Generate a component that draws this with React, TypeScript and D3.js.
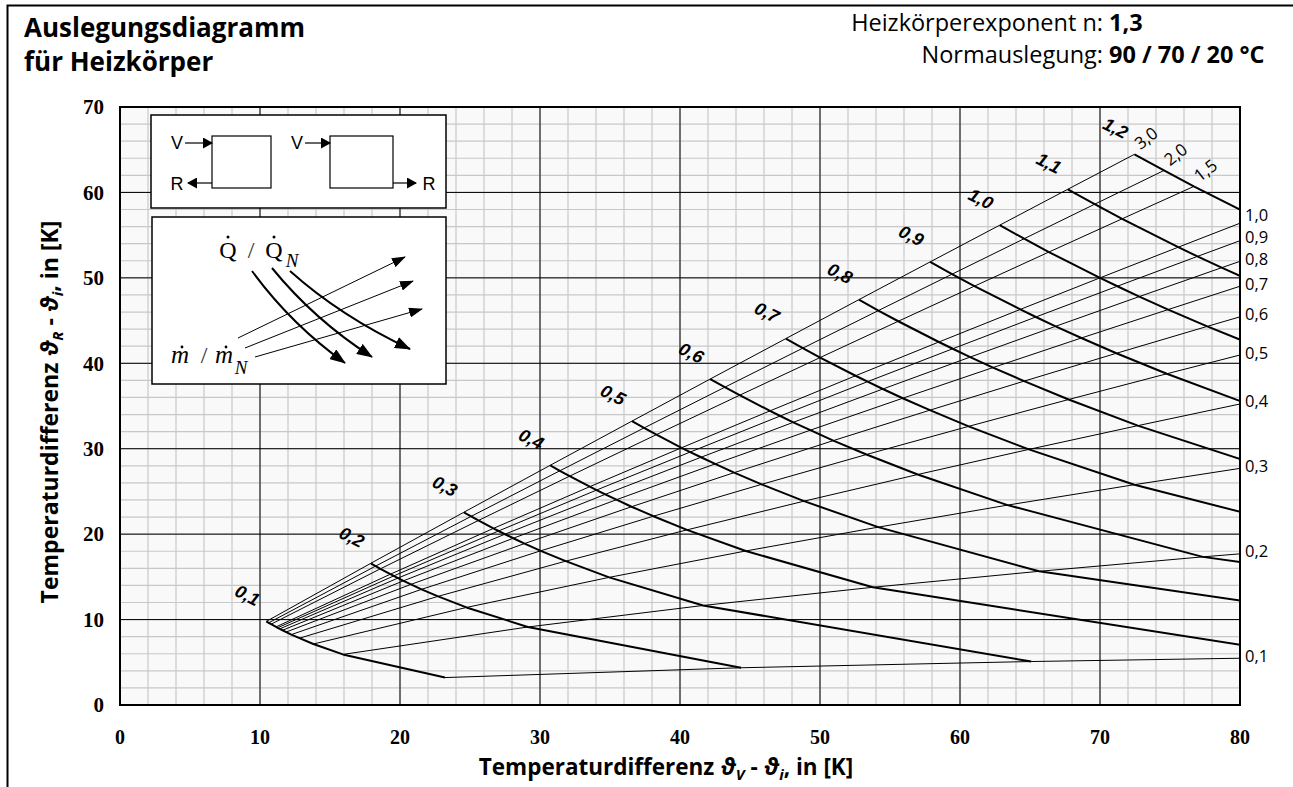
import React from "react";
import * as d3 from "d3";

// Heizkörper-Auslegung, n = 1,3, Normauslegung 90/70/20 °C
const qLevels = [0.1, 0.2, 0.3, 0.4, 0.5, 0.6, 0.7, 0.8, 0.9, 1.0, 1.1, 1.2];
const qLabels = ["0,1", "0,2", "0,3", "0,4", "0,5", "0,6", "0,7", "0,8", "0,9", "1,0", "1,1", "1,2"];
const mLevels = [3.0, 2.0, 1.5, 1.0, 0.9, 0.8, 0.7, 0.6, 0.5, 0.4, 0.3, 0.2, 0.1];
const mLabels = ["3,0", "2,0", "1,5", "1,0", "0,9", "0,8", "0,7", "0,6", "0,5", "0,4", "0,3", "0,2", "0,1"];

// ϑV - ϑi per Q-Kurve (Zeile) und Massenstrom (Spalte, Reihenfolge wie mLevels)
const vorlaufDiff = [
  [10.45, 10.62, 10.79, 11.15, 11.26, 11.41, 11.61, 11.87, 12.24, 12.82, 13.81, 15.92, 23.21],
  [17.91, 18.26, 18.6, 19.31, 19.55, 19.86, 20.25, 20.78, 21.54, 22.72, 24.75, 29.13, 44.36],
  [24.56, 25.08, 25.6, 26.67, 27.04, 27.49, 28.09, 28.9, 30.05, 31.84, 34.94, 41.65, 65.09],
  [30.73, 31.42, 32.12, 33.56, 34.04, 34.66, 35.46, 36.54, 38.1, 40.5, 44.7, 53.78, 85.62],
  [36.57, 37.43, 38.32, 40.11, 40.73, 41.5, 42.51, 43.87, 45.83, 48.86, 54.16, 65.65, 106.03],
  [42.16, 43.2, 44.26, 46.43, 47.16, 48.09, 49.31, 50.95, 53.32, 56.98, 63.4, 77.34, 126.35],
  [47.56, 48.77, 50.01, 52.54, 53.4, 54.49, 55.91, 57.85, 60.62, 64.92, 72.46, 88.88, 146.61],
  [52.78, 54.17, 55.59, 58.49, 59.48, 60.73, 62.36, 64.58, 67.76, 72.7, 81.38, 100.29, 166.8],
  [57.87, 59.43, 61.03, 64.31, 65.42, 66.83, 68.67, 71.17, 74.77, 80.36, 90.18],
  [62.84, 64.58, 66.35, 70.0, 71.24, 72.81, 74.87, 77.66, 81.67, 87.9],
  [67.7, 69.62, 71.58, 75.59, 76.96, 78.69, 80.96, 84.04],
  [72.46, 74.57, 76.7, 81.09, 82.59, 84.48],
];

// ϑR - ϑi, gleiche Anordnung
const ruecklaufDiff = [
  [9.78, 9.62, 9.46, 9.15, 9.04, 8.91, 8.75, 8.54, 8.24, 7.82, 7.14, 5.92, 3.21],
  [16.58, 16.26, 15.94, 15.31, 15.11, 14.86, 14.54, 14.12, 13.54, 12.72, 11.42, 9.13, 4.36],
  [22.56, 22.08, 21.6, 20.67, 20.37, 19.99, 19.52, 18.9, 18.05, 16.84, 14.94, 11.65, 5.09],
  [28.06, 27.42, 26.79, 25.56, 25.16, 24.66, 24.03, 23.21, 22.1, 20.5, 18.03, 13.78, 5.62],
  [33.23, 32.43, 31.65, 30.11, 29.61, 29.0, 28.22, 27.2, 25.83, 23.86, 20.82, 15.65, 6.03],
  [38.16, 37.2, 36.26, 34.43, 33.83, 33.09, 32.17, 30.95, 29.32, 26.98, 23.4, 17.34, 6.35],
  [42.89, 41.77, 40.67, 38.54, 37.85, 36.99, 35.91, 34.51, 32.62, 29.92, 25.79, 18.88, 6.61],
  [47.45, 46.17, 44.92, 42.49, 41.7, 40.73, 39.5, 37.91, 35.76, 32.7, 28.05, 20.29, 6.83],
  [51.87, 50.43, 49.03, 46.31, 45.42, 44.33, 42.96, 41.17, 38.77, 35.36, 30.18],
  [56.17, 54.58, 53.02, 50.0, 49.02, 47.81, 46.29, 44.32, 41.67, 37.9],
  [60.37, 58.62, 56.91, 53.59, 52.51, 51.19, 49.53, 47.37],
  [64.46, 62.57, 60.7, 57.09, 55.92, 54.48],
];

const xTicks = [0, 10, 20, 30, 40, 50, 60, 70, 80];
const yTicks = [0, 10, 20, 30, 40, 50, 60, 70];

const W = 1293, H = 787;
const plot = { left: 120, right: 1240, top: 107, bottom: 705 };
const sans = "'Open Sans', Lato, sans-serif";
const serif = "'Liberation Serif', 'DejaVu Serif', serif";
const arial = "'Liberation Sans', Arial, sans-serif";

function App() {
  const x = d3.scaleLinear().domain([0, 80]).range([plot.left, plot.right]);
  const y = d3.scaleLinear().domain([0, 70]).range([plot.bottom, plot.top]);
  const line = d3.line<number[]>().x(d => x(d[0])).y(d => y(d[1]));

  const qCurves = qLevels.map((q, i) => vorlaufDiff[i].map((v, j) => [v, ruecklaufDiff[i][j]]));
  const mCurves = mLevels.map((m, j) =>
    qLevels
      .map((q, i) => (vorlaufDiff[i][j] !== undefined ? [vorlaufDiff[i][j], ruecklaufDiff[i][j]] : null))
      .filter(p => p !== null) as number[][]
  );

  // wo schneidet eine Linie den rechten Rand?
  const edgeY = (pts: number[][]) => {
    for (let k = 0; k < pts.length - 1; k++) {
      if (pts[k][0] <= 80 && pts[k + 1][0] > 80) {
        const t = (80 - pts[k][0]) / (pts[k + 1][0] - pts[k][0]);
        return pts[k][1] + t * (pts[k + 1][1] - pts[k][1]);
      }
    }
    return null;
  };

  // rechte Beschriftung: Pixel-y, nach oben geschoben falls zu eng
  const edgeLabels = mCurves
    .map((pts, j) => ({ j, ye: edgeY(pts) }))
    .filter(d => d.ye !== null)
    .map(d => ({ j: d.j, py: y(d.ye as number) - 3 }))
    .sort((a, b) => b.py - a.py);
  for (let k = 1; k < edgeLabels.length; k++) {
    if (edgeLabels[k - 1].py - edgeLabels[k].py < 22) edgeLabels[k].py = edgeLabels[k - 1].py - 22;
  }

  const minorX = d3.range(0, 81, 2), minorY = d3.range(0, 71, 2);

  return (
    <svg width={W} height={H} style={{ display: "block", background: "#fff" }}>
      <style>{`body{margin:0}`}</style>
      <defs>
        <clipPath id="plotClip">
          <rect x={plot.left} y={plot.top} width={plot.right - plot.left} height={plot.bottom - plot.top} />
        </clipPath>
        <marker id="headBig" markerUnits="userSpaceOnUse" markerWidth="16" markerHeight="12" refX="15" refY="6" orient="auto">
          <path d="M0,0 L16,6 L0,12 Z" fill="#000" />
        </marker>
        <marker id="headSmall" markerUnits="userSpaceOnUse" markerWidth="14" markerHeight="10" refX="13" refY="5" orient="auto">
          <path d="M0,0 L14,5 L0,10 Z" fill="#000" />
        </marker>
        <marker id="headVR" markerUnits="userSpaceOnUse" markerWidth="10" markerHeight="11" refX="9" refY="5.5" orient="auto">
          <path d="M0,0 L10,5.5 L0,11 Z" fill="#000" />
        </marker>
      </defs>

      {/* Rahmen */}
      <path d="M7.5,800 L7.5,5.5 L1300,5.5" fill="none" stroke="#000" strokeWidth={2} />

      {/* Titel */}
      <text x={24} y={37} fontFamily={sans} fontWeight="bold" fontSize={26}>Auslegungsdiagramm</text>
      <text x={24} y={71} fontFamily={sans} fontWeight="bold" fontSize={26}>für Heizkörper</text>

      <text x={1103} y={31} fontFamily={sans} fontSize={23.5} textAnchor="end">Heizkörperexponent n:</text>
      <text x={1109} y={31} fontFamily={sans} fontSize={23.5} fontWeight="bold">1,3</text>
      <text x={1103} y={63} fontFamily={sans} fontSize={23.5} textAnchor="end">Normauslegung:</text>
      <text x={1109} y={63} fontFamily={sans} fontSize={23.5} fontWeight="bold">90 / 70 / 20 °C</text>

      {/* Diagrammfläche und Gitter */}
      <rect x={plot.left} y={plot.top} width={plot.right - plot.left} height={plot.bottom - plot.top} fill="#f9f9f9" />
      {minorX.map(v => (
        <line key={"mx" + v} x1={x(v)} x2={x(v)} y1={plot.top} y2={plot.bottom} stroke="#c8c8c8" strokeWidth={1.2} />
      ))}
      {minorY.map(v => (
        <line key={"my" + v} y1={y(v)} y2={y(v)} x1={plot.left} x2={plot.right} stroke="#c8c8c8" strokeWidth={1.2} />
      ))}
      {xTicks.map(v => (
        <line key={"gx" + v} x1={x(v)} x2={x(v)} y1={plot.top} y2={plot.bottom} stroke="#000" strokeWidth={1} />
      ))}
      {yTicks.map(v => (
        <line key={"gy" + v} y1={y(v)} y2={y(v)} x1={plot.left} x2={plot.right} stroke="#000" strokeWidth={1} />
      ))}

      {/* Kurven */}
      <g clipPath="url(#plotClip)" fill="none" stroke="#000" strokeLinejoin="round">
        {mCurves.map((pts, j) => (
          <path key={"m" + j} d={line(pts) || ""} strokeWidth={1} />
        ))}
        {qCurves.map((pts, i) => (
          <path key={"q" + i} d={line(pts) || ""} strokeWidth={2} />
        ))}
      </g>

      <rect x={plot.left} y={plot.top} width={plot.right - plot.left} height={plot.bottom - plot.top} fill="none" stroke="#000" strokeWidth={2} />

      {/* Q/QN Beschriftung */}
      {qCurves.map((pts, i) => {
        const px = x(pts[0][0]) - 19, py = y(pts[0][1]) - 26;
        return (
          <text key={"ql" + i} x={px} y={py} transform={`rotate(27 ${px} ${py})`} textAnchor="middle" dominantBaseline="central"
            fontFamily={arial} fontWeight="bold" fontStyle="italic" fontSize={18}>
            {qLabels[i]}
          </text>
        );
      })}

      {/* m/mN Beschriftung */}
      {edgeLabels.map(d => (
        <text key={"ml" + d.j} x={plot.right + 5} y={d.py} dominantBaseline="central" fontFamily={sans} fontSize={16.5}>
          {mLabels[d.j]}
        </text>
      ))}
      {mCurves.map((pts, j) => {
        if (edgeY(pts) !== null) return null;
        const last = pts[pts.length - 1];
        const px = x(last[0]) + 6, py = y(last[1]) - 4;
        return (
          <text key={"mt" + j} x={px} y={py} transform={`rotate(-38 ${px} ${py})`} fontFamily={sans} fontSize={17}>
            {mLabels[j]}
          </text>
        );
      })}

      {/* Achsen */}
      {xTicks.map(v => (
        <text key={"xt" + v} x={x(v)} y={744} textAnchor="middle" fontFamily={serif} fontWeight="bold" fontSize={20}>{v}</text>
      ))}
      {yTicks.map(v => (
        <text key={"yt" + v} x={104} y={y(v)} dy="0.35em" textAnchor="end" fontFamily={serif} fontWeight="bold" fontSize={21}>{v}</text>
      ))}

      <text x={666} y={775} textAnchor="middle" fontFamily={sans} fontWeight="bold" fontSize={22.5}>
        Temperaturdifferenz <tspan fontStyle="italic">ϑ</tspan>
        <tspan dy={5} fontSize={15} fontStyle="italic">V</tspan>
        <tspan dy={-5}> - </tspan>
        <tspan fontStyle="italic">ϑ</tspan>
        <tspan dy={5} fontSize={15} fontStyle="italic">i</tspan>
        <tspan dy={-5}>, in [K]</tspan>
      </text>
      <text x={58} y={412} transform="rotate(-90 58 412)" textAnchor="middle" fontFamily={sans} fontWeight="bold" fontSize={23}>
        Temperaturdifferenz <tspan fontStyle="italic">ϑ</tspan>
        <tspan dy={5} fontSize={15} fontStyle="italic">R</tspan>
        <tspan dy={-5}> - </tspan>
        <tspan fontStyle="italic">ϑ</tspan>
        <tspan dy={5} fontSize={15} fontStyle="italic">i</tspan>
        <tspan dy={-5}>, in [K]</tspan>
      </text>

      {/* Legende: Anschlussarten */}
      <g>
        <rect x={151} y={115} width={295} height={93} fill="#fff" stroke="#000" strokeWidth={1.5} />
        <rect x={212} y={136} width={59} height={52} fill="none" stroke="#000" strokeWidth={1.2} />
        <rect x={330} y={136} width={63} height={52} fill="none" stroke="#000" strokeWidth={1.2} />
        <line x1={185} y1={143} x2={212} y2={143} stroke="#000" strokeWidth={1.2} markerEnd="url(#headVR)" />
        <line x1={212} y1={183} x2={188} y2={183} stroke="#000" strokeWidth={1.2} markerEnd="url(#headVR)" />
        <line x1={305} y1={143} x2={330} y2={143} stroke="#000" strokeWidth={1.2} markerEnd="url(#headVR)" />
        <line x1={393} y1={183} x2={416} y2={183} stroke="#000" strokeWidth={1.2} markerEnd="url(#headVR)" />
        <text x={177} y={143} textAnchor="middle" dominantBaseline="central" fontFamily={arial} fontSize={18}>V</text>
        <text x={177} y={184} textAnchor="middle" dominantBaseline="central" fontFamily={arial} fontSize={18}>R</text>
        <text x={297} y={143} textAnchor="middle" dominantBaseline="central" fontFamily={arial} fontSize={18}>V</text>
        <text x={429} y={184} textAnchor="middle" dominantBaseline="central" fontFamily={arial} fontSize={18}>R</text>
      </g>

      {/* Legende: Kurvenrichtung */}
      <g>
        <rect x={152} y={217} width={294} height={167} fill="#fff" stroke="#000" strokeWidth={1.5} />
        <text x={228} y={258} textAnchor="middle" fontFamily={serif} fontSize={24}>Q</text>
        <circle cx={228} cy={237} r={1.5} fill="#000" />
        <text x={251} y={258} textAnchor="middle" fontFamily={serif} fontSize={24} fill="#333">/</text>
        <text x={274} y={258} textAnchor="middle" fontFamily={serif} fontSize={24}>Q</text>
        <circle cx={274} cy={237} r={1.5} fill="#000" />
        <text x={292} y={267} textAnchor="middle" fontFamily={serif} fontStyle="italic" fontSize={19}>N</text>

        <text x={180} y={363} textAnchor="middle" fontFamily={serif} fontStyle="italic" fontSize={25}>m</text>
        <circle cx={182} cy={347} r={1.4} fill="#000" />
        <text x={204} y={363} textAnchor="middle" fontFamily={serif} fontSize={24} fill="#333">/</text>
        <text x={224} y={363} textAnchor="middle" fontFamily={serif} fontStyle="italic" fontSize={25}>m</text>
        <circle cx={226} cy={347} r={1.4} fill="#000" />
        <text x={241} y={374} textAnchor="middle" fontFamily={serif} fontStyle="italic" fontSize={19}>N</text>

        {[[252, 271, 345, 363], [272, 268, 372, 357], [290, 271, 410, 349]].map(([x1, y1, x2, y2], k) => {
          const cx = x1 + 0.42 * (x2 - x1), cy = y1 + 0.58 * (y2 - y1);
          return <path key={"qa" + k} d={`M${x1},${y1} Q${cx},${cy} ${x2},${y2}`} fill="none" stroke="#000" strokeWidth={2} markerEnd="url(#headBig)" />;
        })}
        {[[238, 338, 405, 257], [245, 348, 413, 281], [255, 357, 422, 309]].map(([x1, y1, x2, y2], k) => (
          <line key={"ma" + k} x1={x1} y1={y1} x2={x2} y2={y2} stroke="#000" strokeWidth={1} markerEnd="url(#headSmall)" />
        ))}
      </g>
    </svg>
  );
}

export default App;
